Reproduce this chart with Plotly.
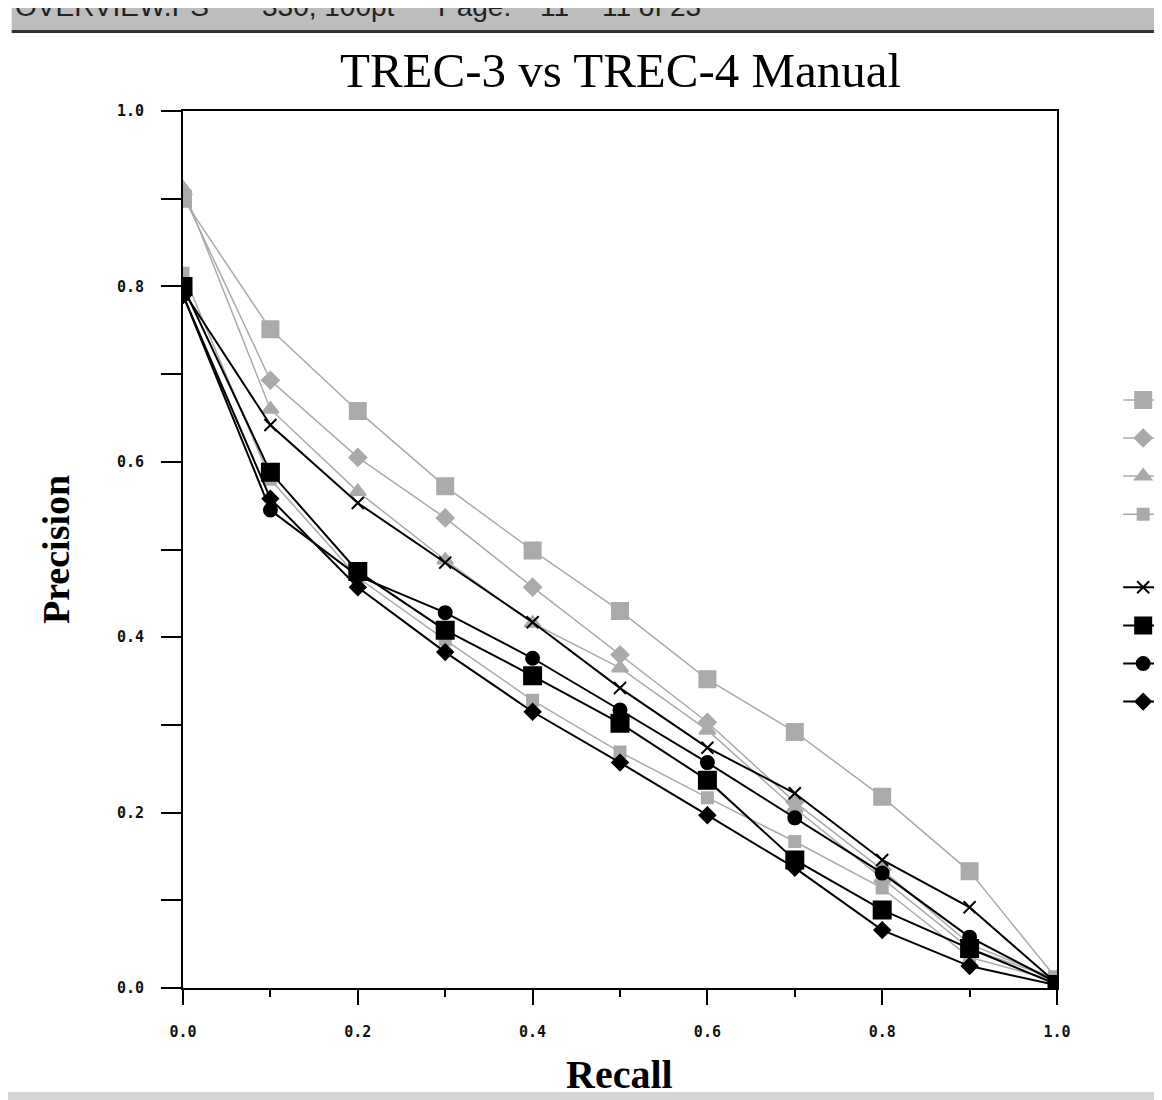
import plotly.graph_objects as go

recall = [0.0, 0.1, 0.2, 0.3, 0.4, 0.5, 0.6, 0.7, 0.8, 0.9, 1.0]

# TREC-3 (grey) runs
g_square = [0.900, 0.751, 0.658, 0.572, 0.499, 0.430, 0.352, 0.292, 0.218, 0.133, 0.010]
g_diamond = [0.905, 0.693, 0.605, 0.536, 0.457, 0.380, 0.303, 0.212, 0.135, 0.050, 0.010]
g_triangle = [0.912, 0.660, 0.566, 0.488, 0.416, 0.365, 0.294, 0.205, 0.125, 0.045, 0.010]
g_small = [0.815, 0.580, 0.468, 0.397, 0.328, 0.269, 0.217, 0.167, 0.114, 0.035, 0.008]

# TREC-4 (black) runs
b_x = [0.795, 0.642, 0.553, 0.485, 0.417, 0.342, 0.274, 0.222, 0.146, 0.092, 0.005]
b_square = [0.800, 0.588, 0.475, 0.408, 0.356, 0.302, 0.237, 0.146, 0.089, 0.045, 0.004]
b_circle = [0.790, 0.545, 0.470, 0.428, 0.376, 0.317, 0.257, 0.194, 0.131, 0.058, 0.006]
b_diamond = [0.790, 0.558, 0.457, 0.383, 0.315, 0.257, 0.197, 0.137, 0.066, 0.025, 0.003]

tick_vals = [0.0, 0.2, 0.4, 0.6, 0.8, 1.0]
tick_text = ["0.0", "0.2", "0.4", "0.6", "0.8", "1.0"]
minor_vals = [0.1, 0.3, 0.5, 0.7, 0.9]

GREY = "#aaaaaa"
BLACK = "#000000"

series = [
    (g_square, GREY, "square", 16, 1.5, "g"),
    (g_diamond, GREY, "diamond", 13, 1.5, "g"),
    (g_triangle, GREY, "triangle-up", 14, 1.5, "g"),
    (g_small, GREY, "square", 11, 1.5, "g"),
    (b_x, BLACK, "x-thin", 12, 2, "b"),
    (b_square, BLACK, "square", 17, 2, "b"),
    (b_circle, BLACK, "circle", 13, 2, "b"),
    (b_diamond, BLACK, "diamond", 12, 2, "b"),
]

fig = go.Figure()
for vals, col, sym, size, lw, grp in series:
    fig.add_trace(go.Scatter(
        x=recall, y=vals, mode="lines+markers", name=" ",
        legendgroup=grp,
        line=dict(color=col, width=lw),
        marker=dict(symbol=sym, size=size, color=col,
                    line=dict(color=col, width=2)),
    ))

tick_font = dict(family="DejaVu Sans Mono", size=15, color="#111", weight="bold")

# page has an 8px body margin, so the figure is 8px smaller than the window
fig.update_layout(
    width=1154, height=1092,
    margin=dict(l=175, r=105, t=103, b=112, autoexpand=False),
    paper_bgcolor="white", plot_bgcolor="white",
    showlegend=True,
    legend=dict(x=1.07, y=0.698, xanchor="left", yanchor="top",
                font=dict(size=27), tracegroupgap=35,
                bgcolor="rgba(0,0,0,0)", itemwidth=40),
    xaxis=dict(range=[0, 1.0], tickvals=tick_vals, ticktext=tick_text,
               ticks="outside", ticklen=15, tickwidth=2, tickcolor="black",
               minor=dict(tickvals=minor_vals, ticks="outside",
                          ticklen=7, tickwidth=2, tickcolor="black"),
               showgrid=False, zeroline=False, showline=True, linecolor="black",
               linewidth=2, mirror=True, tickfont=tick_font, ticklabelstandoff=14),
    yaxis=dict(range=[0, 1.0], tickvals=tick_vals, ticktext=tick_text,
               ticks="outside", ticklen=20, tickwidth=2, tickcolor="black",
               minor=dict(tickvals=minor_vals, ticks="outside",
                          ticklen=20, tickwidth=2, tickcolor="black"),
               showgrid=False, zeroline=False, showline=True, linecolor="black",
               linewidth=2, mirror=True, tickfont=tick_font, ticklabelstandoff=14),
)

# header bar of the viewer window (top of the text is cut off)
fig.add_shape(type="rect", xref="paper", yref="paper", x0=-0.196, x1=1.12,
              y0=1.0924, y1=1.14, fillcolor="#bdbdbd", line=dict(width=0), layer="below")
fig.add_shape(type="line", xref="paper", yref="paper", x0=-0.196, x1=1.12,
              y0=1.0906, y1=1.0906, line=dict(color="#333", width=3))
header = [("OVERVIEW.PS", -0.1945), ("330, 100pt", 0.0881), ("Page:", 0.2895),
          ("11", 0.4062), ("11 of 23", 0.4771)]
for txt, xp in header:
    fig.add_annotation(text=txt, xref="paper", yref="paper", x=xp, y=1.0995,
                       xanchor="left", yanchor="bottom", showarrow=False,
                       font=dict(family="Liberation Sans", size=28, color="#222"))

# bottom strip of the viewer window
fig.add_shape(type="rect", xref="paper", yref="paper", x0=-0.21, x1=1.12,
              y0=-0.13, y1=-0.1186, fillcolor="#d4d4d4", line=dict(width=0))

fig.add_annotation(text="TREC-3 vs TREC-4 Manual", xref="paper", yref="paper",
                   x=0.5, y=1.0467, xanchor="center", yanchor="middle", showarrow=False,
                   font=dict(family="Liberation Serif", size=49, color="black"))
fig.add_annotation(text="<b>Precision</b>", xref="paper", yref="paper",
                   x=-0.1453, y=0.4994, xanchor="center", yanchor="middle", showarrow=False,
                   textangle=-90, font=dict(family="Liberation Serif", size=38, color="black"))
fig.add_annotation(text="<b>Recall</b>", xref="paper", yref="paper",
                   x=0.499, y=-0.0992, xanchor="center", yanchor="middle", showarrow=False,
                   font=dict(family="Liberation Serif", size=40, color="black"))

fig.write_html("out.html")
